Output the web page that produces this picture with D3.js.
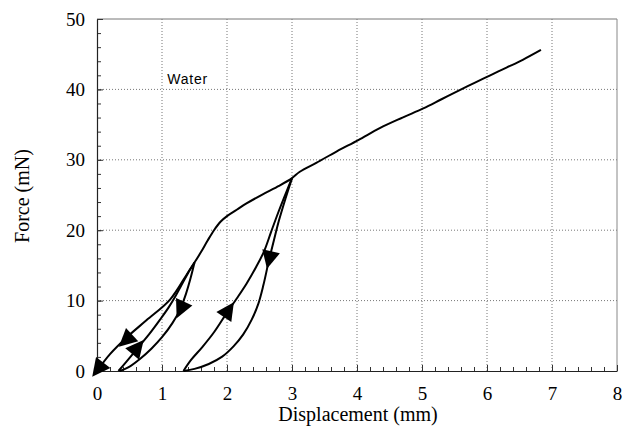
<!DOCTYPE html>
<html lang="en">
<head>
<meta charset="UTF-8">
<title>Force vs Displacement</title>
<script src="https://d3js.org/d3.v7.min.js"></script>
<style>
  body { margin: 0; background: #fff; }
  svg text { font-family: "Liberation Serif", "Times New Roman", serif; fill: #000; }
</style>
</head>
<body>
<div id="chart"></div>
<script>
// ticks
const xTicks = [0, 1, 2, 3, 4, 5, 6, 7, 8]
const yTicks = [0, 10, 20, 30, 40, 50]

// loading envelope (starts at origin)
const envelope = [[0,0],[0.2,2.4],[0.46,4.8],[0.76,7.2],[1.12,10.1],[1.4,14.0],[1.5,15.4],
  [1.6,16.9],[1.7,18.5],[1.8,20.0],[1.9,21.2],[2.0,22.0],[2.15,22.9],[2.3,23.8],[2.55,25.1],[2.8,26.3],[3.0,27.4],
  [3.12,28.3],[3.38,29.6],[3.69,31.2],[4.02,32.8],[4.35,34.5],[4.7,36.0],[5.02,37.3],[5.3,38.6],[5.58,39.9],
  [5.8,40.9],[6.05,42.0],[6.3,43.1],[6.55,44.2],[6.83,45.6]]
// first cycle
const reload1 = [[0.33,0],[0.45,1.3],[0.62,3.2],[0.8,5.2],[0.97,7.3],[1.1,9.0],[1.2,10.5],[1.3,12.2],[1.4,13.9],[1.5,15.4]]
const unload1 = [[1.5,15.4],[1.44,13.2],[1.37,11.0],[1.28,8.8],[1.16,6.8],[1.0,4.8],[0.84,3.2],[0.66,1.7],[0.48,0.5],[0.35,0]]
// second cycle
const reload2 = [[1.33,0],[1.45,1.6],[1.62,3.4],[1.8,5.5],[2.0,8.3],[2.15,10.3],[2.3,12.4],[2.45,14.8],[2.57,17.0],
  [2.68,19.8],[2.8,22.8],[2.92,25.6],[3.0,27.4]]
const unload2 = [[3.0,27.4],[2.9,24.5],[2.8,21.4],[2.72,18.5],[2.64,15.5],[2.56,12.2],[2.48,9.5],[2.38,7.3],[2.25,5.2],
  [2.1,3.5],[1.92,2.0],[1.72,1.0],[1.5,0.3],[1.33,0]]

const curves = { envelope, reload1, unload1, reload2, unload2 }

// arrow heads: curve, position, direction along the curve
const arrows = [
  { curve: 'envelope', x: 0.02, y: 0.3, dir: -1 },
  { curve: 'envelope', x: 0.45, y: 4.4, dir: -1 },
  { curve: 'reload1', x: 0.62, y: 3.3, dir: 1 },
  { curve: 'unload1', x: 1.29, y: 8.8, dir: 1 },
  { curve: 'reload2', x: 2.02, y: 8.6, dir: 1 },
  { curve: 'unload2', x: 2.65, y: 15.9, dir: 1 }
]

const width = 622, height = 427
const margin = { top: 19, right: 5, bottom: 56, left: 97 }
const w = width - margin.left - margin.right
const h = height - margin.top - margin.bottom

const svg = d3.select('#chart').append('svg')
  .attr('width', width)
  .attr('height', height)

const g = svg.append('g').attr('transform', `translate(${margin.left},${margin.top})`)

const x = d3.scaleLinear().domain([0, 8]).range([0, w])
const y = d3.scaleLinear().domain([0, 50]).range([h, 0])

// dotted grid
g.append('g').selectAll('line')
  .data(xTicks.slice(1, -1))
  .enter().append('line')
  .attr('x1', d => x(d)).attr('x2', d => x(d))
  .attr('y1', 0).attr('y2', h)
  .attr('stroke', '#777').attr('stroke-width', 1).attr('stroke-dasharray', '1,2')
g.append('g').selectAll('line')
  .data(yTicks.slice(1, -1))
  .enter().append('line')
  .attr('x1', 0).attr('x2', w)
  .attr('y1', d => y(d)).attr('y2', d => y(d))
  .attr('stroke', '#777').attr('stroke-width', 1).attr('stroke-dasharray', '1,2')

// frame top / right
g.append('line').attr('x1', 0).attr('x2', w).attr('y1', 0).attr('y2', 0).attr('stroke', '#777')
g.append('line').attr('x1', w).attr('x2', w).attr('y1', 0).attr('y2', h).attr('stroke', '#888')

// minor ticks
g.append('g').attr('transform', `translate(0,${h})`)
  .call(d3.axisBottom(x).tickValues(d3.range(0, 8.001, 0.2)).tickSize(-4).tickFormat(''))
  .call(a => a.select('.domain').remove())
g.append('g')
  .call(d3.axisLeft(y).tickValues(d3.range(0, 50.001, 2)).tickSize(-4).tickFormat(''))
  .call(a => a.select('.domain').remove())

// major ticks + labels
const xAxis = g.append('g').attr('transform', `translate(0,${h})`)
  .call(d3.axisBottom(x).tickValues(xTicks).tickSizeInner(-6).tickSizeOuter(0).tickPadding(16).tickFormat(d3.format('d')))
const yAxis = g.append('g')
  .call(d3.axisLeft(y).tickValues(yTicks).tickSizeInner(-6).tickSizeOuter(0).tickPadding(12).tickFormat(d3.format('d')))

;[xAxis, yAxis].forEach(a => {
  a.attr('font-family', null).attr('font-size', null)
  a.selectAll('text').style('font-size', '19px')
  a.select('.domain').attr('stroke', '#222').attr('stroke-width', 1.2)
})
g.selectAll('.tick line').attr('stroke', '#333')

// axis titles
svg.append('text')
  .attr('x', margin.left + w / 2 + 1)
  .attr('y', 421)
  .attr('text-anchor', 'middle')
  .style('font-size', '20px')
  .text('Displacement (mm)')
svg.append('text')
  .attr('transform', `translate(29,196) rotate(-90)`)
  .attr('text-anchor', 'middle')
  .style('font-size', '20px')
  .text('Force (mN)')

// curves
const line = d3.line()
  .x(d => x(d[0]))
  .y(d => y(d[1]))
  .curve(d3.curveCatmullRom.alpha(0.5))

g.selectAll('path.curve')
  .data(Object.values(curves))
  .enter().append('path')
  .attr('class', 'curve')
  .attr('d', line)
  .attr('fill', 'none')
  .attr('stroke', '#000')
  .attr('stroke-width', 2)
  .attr('stroke-linejoin', 'round')

// arrow heads, oriented along local tangent of their curve
function arrowAngle(a) {
  const pts = curves[a.curve].map(p => [x(p[0]), y(p[1])])
  const px = x(a.x), py = y(a.y)
  let best = 0, bd = Infinity
  pts.forEach((p, i) => {
    const dd = (p[0] - px) ** 2 + (p[1] - py) ** 2
    if (dd < bd) { bd = dd; best = i }
  })
  const p0 = pts[Math.max(0, best - 1)]
  const p1 = pts[Math.min(pts.length - 1, best + 1)]
  let ang = Math.atan2(p1[1] - p0[1], p1[0] - p0[0]) * 180 / Math.PI
  if (a.dir < 0) ang += 180
  return ang
}

g.selectAll('path.arrow')
  .data(arrows)
  .enter().append('path')
  .attr('class', 'arrow')
  .attr('d', 'M10,0 L-8,-9 L-8,9 Z')
  .attr('fill', '#000')
  .attr('transform', d => `translate(${x(d.x)},${y(d.y)}) rotate(${arrowAngle(d)})`)

// label
g.append('text')
  .attr('x', x(1.08))
  .attr('y', y(40.7))
  .style('font-family', '"Liberation Sans", Arial, sans-serif')
  .style('font-size', '14px')
  .style('letter-spacing', '0.8px')
  .text('Water')
</script>
</body>
</html>
